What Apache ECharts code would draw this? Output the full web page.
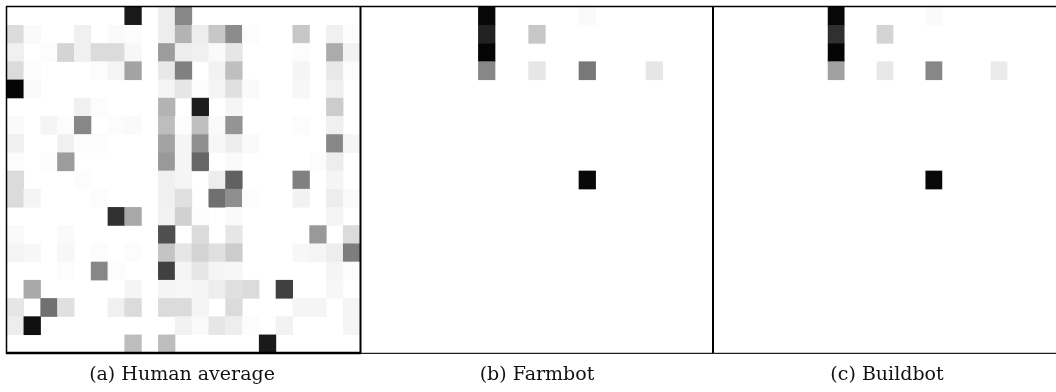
<!DOCTYPE html>
<html>
<head>
<meta charset="utf-8">
<script src="https://cdn.jsdelivr.net/npm/echarts@6/dist/echarts.min.js"></script>
<style>html,body{margin:0;padding:0;background:#fff}#c{width:1056px;height:392px}</style>
</head>
<body>
<div id="c"></div>
<script>
// Grid size: 21 columns x 19 rows
const columns = Array.from({length: 21}, (_, i) => String(i));
const rows = Array.from({length: 19}, (_, i) => String(i));
const captions = ['(a) Human average', '(b) Farmbot', '(c) Buildbot'];

// [column, row, darkness 0..1]
const humanAverage = [
  [7,0,0.9],[9,0,0.07],[10,0,0.47],
  [0,1,0.14],[1,1,0.02],[4,1,0.06],[6,1,0.02],[7,1,0.01],[9,1,0.07],[10,1,0.3],[11,1,0.07],[12,1,0.22],[13,1,0.45],[14,1,0.01],[17,1,0.22],[19,1,0.06],[20,1,0.01],
  [0,2,0.06],[2,2,0.01],[3,2,0.17],[4,2,0.06],[5,2,0.14],[6,2,0.14],[7,2,0.03],[9,2,0.39],[10,2,0.07],[11,2,0.06],[12,2,0.02],[13,2,0.1],[17,2,0.01],[19,2,0.33],[20,2,0.05],
  [0,3,0.14],[1,3,0.01],[5,3,0.01],[6,3,0.04],[7,3,0.36],[9,3,0.09],[10,3,0.5],[12,3,0.05],[13,3,0.25],[17,3,0.04],[19,3,0.09],[20,3,0.01],
  [0,4,0.98],[1,4,0.02],[9,4,0.04],[10,4,0.1],[11,4,0.01],[12,4,0.04],[13,4,0.12],[14,4,0.02],[17,4,0.03],[19,4,0.06],
  [4,5,0.06],[5,5,0.01],[9,5,0.3],[11,5,0.89],[13,5,0.04],[19,5,0.2],
  [0,6,0.02],[2,6,0.04],[3,6,0.01],[4,6,0.47],[6,6,0.01],[7,6,0.02],[9,6,0.26],[10,6,0.01],[11,6,0.25],[12,6,0.02],[13,6,0.42],[17,6,0.01],[19,6,0.06],
  [0,7,0.06],[3,7,0.06],[4,7,0.01],[5,7,0.01],[9,7,0.36],[10,7,0.04],[11,7,0.44],[12,7,0.03],[13,7,0.07],[14,7,0.02],[19,7,0.47],[20,7,0.04],
  [0,8,0.01],[2,8,0.01],[3,8,0.39],[9,8,0.4],[10,8,0.04],[11,8,0.6],[13,8,0.02],[18,8,0.01],[19,8,0.07],
  [0,9,0.14],[4,9,0.01],[9,9,0.06],[10,9,0.04],[12,9,0.07],[13,9,0.62],[17,9,0.5],[19,9,0.04],
  [0,10,0.14],[1,10,0.04],[5,10,0.01],[9,10,0.06],[10,10,0.12],[12,10,0.56],[13,10,0.44],[14,10,0.01],[17,10,0.05],[19,10,0.07],[20,10,0.02],
  [6,11,0.81],[7,11,0.34],[9,11,0.05],[10,11,0.18],[11,11,0.01],[13,11,0.02],[19,11,0.04],
  [0,12,0.02],[3,12,0.02],[9,12,0.69],[11,12,0.14],[13,12,0.1],[18,12,0.4],[20,12,0.14],
  [0,13,0.04],[1,13,0.03],[3,13,0.03],[5,13,0.01],[7,13,0.01],[9,13,0.23],[10,13,0.1],[11,13,0.17],[12,13,0.12],[13,13,0.2],[17,13,0.03],[18,13,0.04],[19,13,0.07],[20,13,0.51],
  [3,14,0.01],[5,14,0.47],[6,14,0.01],[9,14,0.75],[10,14,0.04],[11,14,0.1],[12,14,0.04],[13,14,0.03],[19,14,0.04],[20,14,0.01],
  [1,15,0.34],[7,15,0.04],[9,15,0.04],[10,15,0.03],[11,15,0.04],[12,15,0.07],[13,15,0.12],[14,15,0.14],[16,15,0.75],[19,15,0.03],
  [0,16,0.1],[2,16,0.56],[3,16,0.12],[6,16,0.06],[7,16,0.14],[9,16,0.14],[10,16,0.14],[11,16,0.04],[13,16,0.14],[17,16,0.04],[18,16,0.04],[20,16,0.04],
  [0,17,0.07],[1,17,0.94],[10,17,0.05],[11,17,0.02],[12,17,0.1],[13,17,0.07],[14,17,0.01],[16,17,0.05],[20,17,0.04],
  [7,18,0.26],[9,18,0.26],[15,18,0.9]
];
const farmbot = [
  [7,0,0.97],[7,1,0.87],[7,2,0.98],[7,3,0.47],
  [10,1,0.22],[10,3,0.1],
  [13,0,0.02],[13,3,0.53],
  [17,3,0.1],
  [13,9,0.97]
];
const buildbot = [
  [7,0,0.97],[7,1,0.81],[7,2,0.98],[7,3,0.37],
  [10,1,0.17],[10,3,0.09],
  [13,0,0.02],[13,3,0.47],
  [17,3,0.08],
  [13,9,0.97]
];

const panels = [humanAverage, farmbot, buildbot];
const grids = [
  {left: 7, top: 7, width: 353, height: 346},
  {left: 361, top: 7, width: 352, height: 346},
  {left: 714, top: 7, width: 351, height: 346}
];
const captionX = [182, 537, 887];

const chart = echarts.init(document.getElementById('c'), null, {renderer: 'canvas'});
const option = {
  animation: false,
  backgroundColor: '#ffffff',
  grid: grids.map(g => Object.assign({containLabel: false}, g)),
  xAxis: grids.map((g, i) => ({
    type: 'category', gridIndex: i, data: columns,
    axisLine: {show: false}, axisTick: {show: false}, axisLabel: {show: false}, splitLine: {show: false}
  })),
  yAxis: grids.map((g, i) => ({
    type: 'category', gridIndex: i, data: rows, inverse: true,
    axisLine: {show: false}, axisTick: {show: false}, axisLabel: {show: false}, splitLine: {show: false}
  })),
  visualMap: {
    type: 'continuous', show: false, min: 0, max: 1, dimension: 2,
    seriesIndex: [0, 1, 2],
    inRange: {color: ['#ffffff', '#000000']}
  },
  series: panels.map((d, i) => ({
    type: 'heatmap', xAxisIndex: i, yAxisIndex: i, data: d,
    itemStyle: {borderWidth: 0},
    emphasis: {disabled: true}
  })),
  graphic: [
    {type: 'line', shape: {x1: 6, y1: 6.5, x2: 1056, y2: 6.5}, style: {stroke: '#000', lineWidth: 1.5}, z: 100},
    {type: 'line', shape: {x1: 6.5, y1: 6, x2: 6.5, y2: 354}, style: {stroke: '#000', lineWidth: 1.5}, z: 100},
    {type: 'line', shape: {x1: 360.5, y1: 6, x2: 360.5, y2: 354}, style: {stroke: '#000', lineWidth: 2}, z: 100},
    {type: 'line', shape: {x1: 713, y1: 6, x2: 713, y2: 354}, style: {stroke: '#000', lineWidth: 2}, z: 100},
    {type: 'line', shape: {x1: 6, y1: 353, x2: 361, y2: 353}, style: {stroke: '#000', lineWidth: 2.5}, z: 100},
    {type: 'line', shape: {x1: 361, y1: 353.3, x2: 1056, y2: 353.3}, style: {stroke: '#222', lineWidth: 1.2}, z: 100}
  ].concat(captions.map((t, i) => ({
    type: 'text', x: captionX[i], y: 375, z: 100,
    style: {text: t, fill: '#111', font: '19px "DejaVu Serif"', textAlign: 'center', textVerticalAlign: 'middle'}
  })))
};
chart.setOption(option);
</script>
</body>
</html>
